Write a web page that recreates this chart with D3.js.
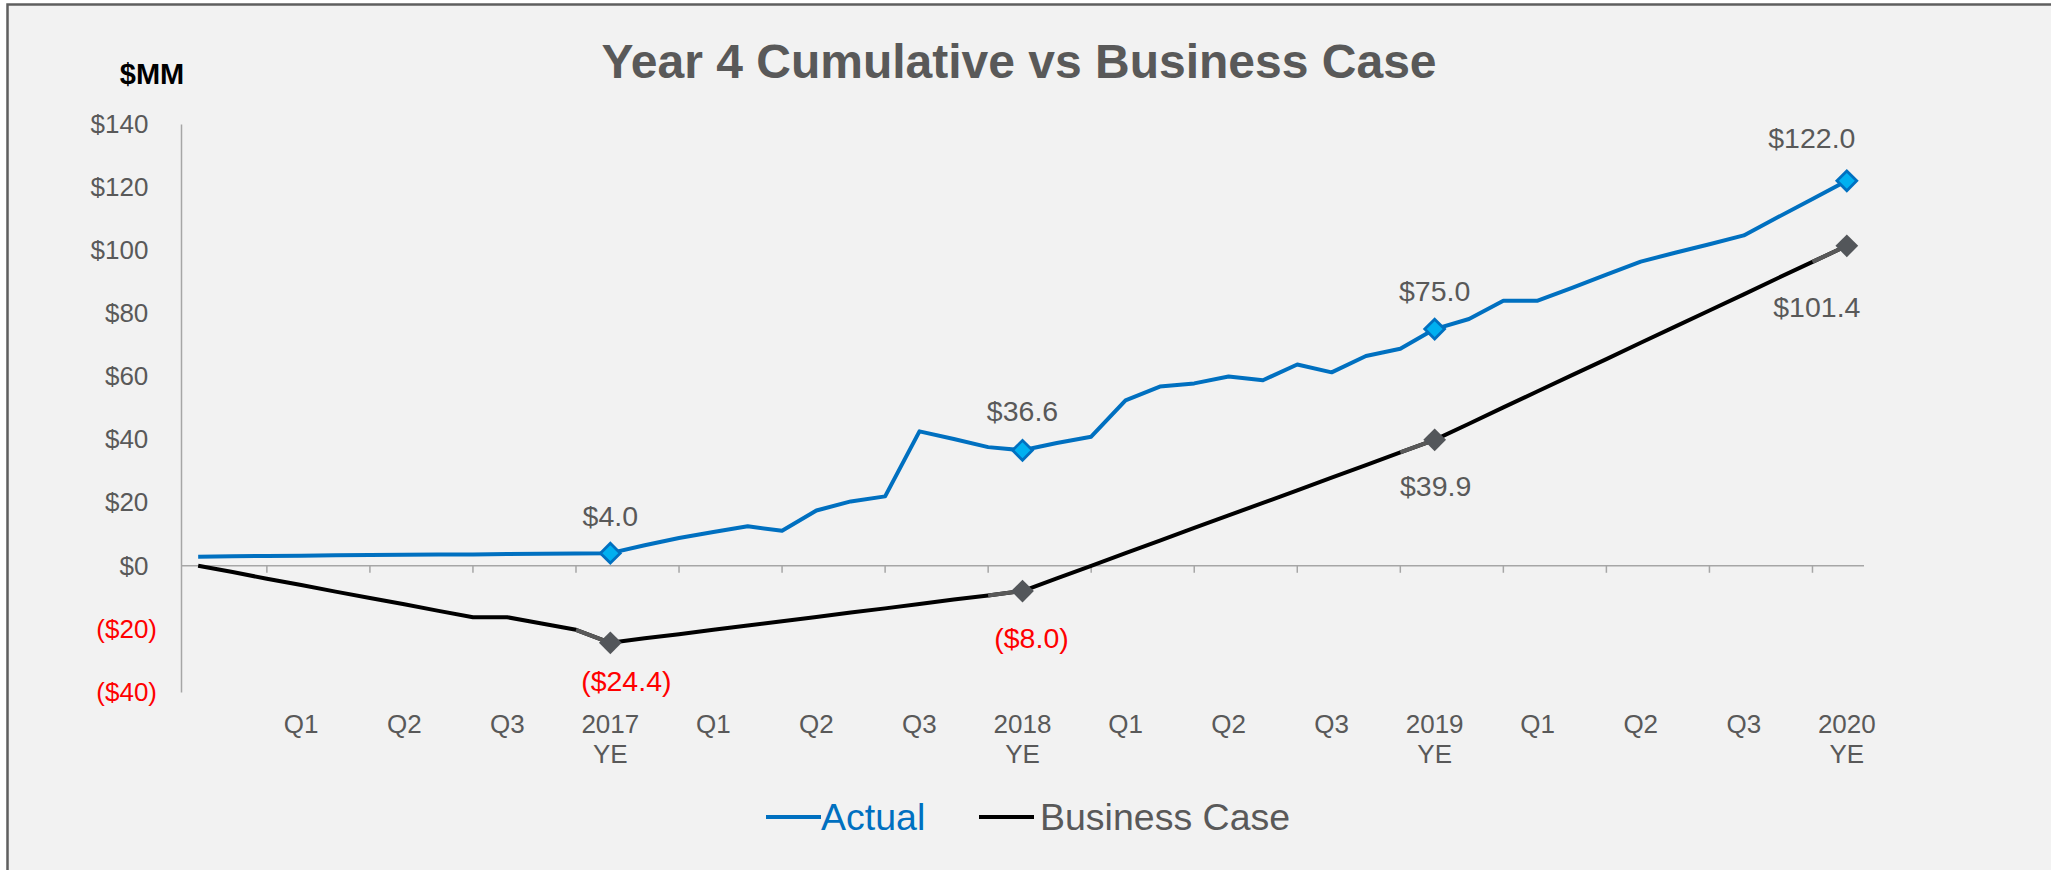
<!DOCTYPE html>
<html>
<head>
<meta charset="utf-8">
<script src="https://cdnjs.cloudflare.com/ajax/libs/d3/7.8.5/d3.min.js"></script>
<style>
  html, body { margin: 0; padding: 0; background: #ffffff; }
  svg { display: block; font-family: "Liberation Sans", Arial, sans-serif; }
  .line { fill: none; stroke-width: 4px; stroke-linejoin: round; }
</style>
</head>
<body>
<script>
// monthly categories, Dec-16 (start) to Dec-20
var months = ["Dec-16",
  "Jan-17","Feb-17","Mar-17","Apr-17","May-17","Jun-17","Jul-17","Aug-17","Sep-17","Oct-17","Nov-17","Dec-17",
  "Jan-18","Feb-18","Mar-18","Apr-18","May-18","Jun-18","Jul-18","Aug-18","Sep-18","Oct-18","Nov-18","Dec-18",
  "Jan-19","Feb-19","Mar-19","Apr-19","May-19","Jun-19","Jul-19","Aug-19","Sep-19","Oct-19","Nov-19","Dec-19",
  "Jan-20","Feb-20","Mar-20","Apr-20","May-20","Jun-20","Jul-20","Aug-20","Sep-20","Oct-20","Nov-20","Dec-20"];

// cumulative $MM
var actual = [2.9,
  3.0, 3.1, 3.2, 3.3, 3.4, 3.5, 3.6, 3.6, 3.7, 3.8, 3.9, 4.0,
  6.5, 8.8, 10.7, 12.5, 11.1, 17.5, 20.4, 22.0, 42.6, 40.2, 37.6, 36.6,
  38.9, 40.9, 52.4, 56.8, 57.8, 60.0, 58.8, 63.8, 61.3, 66.5, 68.8, 75.0,
  78.2, 84.0, 84.0, 88.1, 92.3, 96.4, 99.2, 101.9, 104.7, 110.5, 116.2, 122.0];

var businessCase = [0.0,
  -2.0, -4.1, -6.1, -8.2, -10.2, -12.2, -14.3, -16.3, -16.3, -18.3, -20.3, -24.4,
  -23.0, -21.7, -20.3, -18.9, -17.6, -16.2, -14.8, -13.5, -12.1, -10.7, -9.4, -8.0,
  -4.0, 0.0, 4.0, 8.0, 12.0, 16.0, 19.9, 23.9, 27.9, 31.9, 35.9, 39.9,
  45.0, 50.2, 55.3, 60.4, 65.5, 70.7, 75.8, 80.9, 86.0, 91.2, 96.3, 101.4];

// year-end points that get a marker and a label
var yearEnds = ["Dec-17", "Dec-18", "Dec-19", "Dec-20"];

// x axis labels
var tickMonths = ["Mar-17","Jun-17","Sep-17","Dec-17","Mar-18","Jun-18","Sep-18","Dec-18",
  "Mar-19","Jun-19","Sep-19","Dec-19","Mar-20","Jun-20","Sep-20","Dec-20"];
var tickLabels = [["Q1"],["Q2"],["Q3"],["2017","YE"],["Q1"],["Q2"],["Q3"],["2018","YE"],
  ["Q1"],["Q2"],["Q3"],["2019","YE"],["Q1"],["Q2"],["Q3"],["2020","YE"]];

var yTicks = [-40, -20, 0, 20, 40, 60, 80, 100, 120, 140];

var seriesNames = ["Actual", "Business Case"];

var W = 2051, H = 870;
var grey = "#595959", blue = "#0070c0";

var svg = d3.select("body").append("svg")
  .attr("width", W).attr("height", H);

// panel with border on top / left
svg.append("rect")
  .attr("x", 7.5).attr("y", 4.5)
  .attr("width", W + 20).attr("height", H + 20)
  .attr("fill", "#f2f2f2")
  .attr("stroke", "#5f5f5f").attr("stroke-width", 2.5);

var x = d3.scaleBand().domain(months).range([181, 1864]);
var y = d3.scaleLinear().domain([-40, 140]).range([692, 124]);
var cx = function(m) { return x(m) + x.bandwidth() / 2; };

function money(v) {
  return v < 0 ? "($" + Math.abs(v).toFixed(1) + ")" : "$" + v.toFixed(1);
}

// title
svg.append("text")
  .attr("x", 1019).attr("y", 78)
  .attr("text-anchor", "middle")
  .style("font-size", "48px").style("font-weight", "bold")
  .attr("fill", grey)
  .text("Year 4 Cumulative vs Business Case");

svg.append("text")
  .attr("x", 152).attr("y", 84)
  .attr("text-anchor", "middle")
  .style("font-size", "29px").style("font-weight", "bold")
  .attr("fill", "#000")
  .text("$MM");

// y axis
var yAxis = svg.append("g")
  .attr("transform", "translate(181,0)")
  .call(d3.axisLeft(y).tickValues(yTicks).tickSize(0).tickPadding(24)
    .tickFormat(function(d) { return d < 0 ? "($" + Math.abs(d) + ")" : "$" + d; }));
yAxis.select(".domain").attr("stroke", "#a6a6a6").attr("stroke-width", 1.5);
yAxis.selectAll("text")
  .style("font-size", "26px")
  .attr("font-family", null)
  .attr("fill", function(d) { return d < 0 ? "#ff0000" : grey; })
  .attr("dx", function(d) { return d < 0 ? 0 : "-0.333em"; });

// x axis line at zero with tick marks every quarter
var xAxis = svg.append("g");
xAxis.append("line")
  .attr("x1", x.range()[0]).attr("x2", x.range()[1])
  .attr("y1", y(0)).attr("y2", y(0))
  .attr("stroke", "#a6a6a6").attr("stroke-width", 1.5);
xAxis.selectAll(".tk").data(tickMonths).enter().append("line")
  .attr("x1", function(d) { return x(d) - x.bandwidth() / 2; })
  .attr("x2", function(d) { return x(d) - x.bandwidth() / 2; })
  .attr("y1", y(0)).attr("y2", y(0) + 7)
  .attr("stroke", "#a6a6a6").attr("stroke-width", 1.5);

var lab = svg.append("g").selectAll("text").data(tickMonths).enter().append("text")
  .attr("text-anchor", "middle")
  .attr("x", function(d) { return cx(d); })
  .attr("y", 733)
  .style("font-size", "26px")
  .attr("fill", grey);
lab.each(function(d, i) {
  var t = d3.select(this);
  tickLabels[i].forEach(function(s, k) {
    t.append("tspan").attr("x", cx(d)).attr("dy", k === 0 ? 0 : 30).text(s);
  });
});

// lines
var line = d3.line()
  .x(function(d) { return cx(d.m); })
  .y(function(d) { return y(d.v); });

var actualData = months.map(function(m, i) { return {m: m, v: actual[i]}; });
var bcData = months.map(function(m, i) { return {m: m, v: businessCase[i]}; });

svg.append("path").datum(bcData).attr("class", "line")
  .attr("stroke", "#000").attr("d", line);

// segments leading into the year-end points are grey
yearEnds.forEach(function(m) {
  var i = months.indexOf(m);
  svg.append("path").datum(bcData.slice(i - 1, i + 1)).attr("class", "line")
    .attr("stroke", grey).attr("d", line);
});

svg.append("path").datum(actualData).attr("class", "line")
  .attr("stroke", blue).attr("d", line);

// markers
var bcPts = bcData.filter(function(d) { return yearEnds.indexOf(d.m) >= 0; });
var acPts = actualData.filter(function(d) { return yearEnds.indexOf(d.m) >= 0; });

svg.selectAll(".bcm").data(bcPts).enter().append("path")
  .attr("d", d3.symbol().type(d3.symbolDiamond2).size(330))
  .attr("transform", function(d) { return "translate(" + cx(d.m) + "," + y(d.v) + ")"; })
  .attr("fill", "#53565a");

svg.selectAll(".acm").data(acPts).enter().append("path")
  .attr("d", d3.symbol().type(d3.symbolDiamond2).size(250))
  .attr("transform", function(d) { return "translate(" + cx(d.m) + "," + y(d.v) + ")"; })
  .attr("fill", "#00b0f0").attr("stroke", blue).attr("stroke-width", 2.8);

// data label offsets (dx, dy from point)
var acOff = [[0, -27], [0, -29], [0, -28], [-35, -33]];
var bcOff = [[16, 48], [9, 57], [1, 56], [-30, 71]];

svg.selectAll(".acl").data(acPts).enter().append("text")
  .attr("text-anchor", "middle")
  .attr("x", function(d, i) { return cx(d.m) + acOff[i][0]; })
  .attr("y", function(d, i) { return y(d.v) + acOff[i][1]; })
  .style("font-size", "28.5px")
  .attr("fill", grey)
  .text(function(d) { return money(d.v); });

svg.selectAll(".bcl").data(bcPts).enter().append("text")
  .attr("text-anchor", "middle")
  .attr("x", function(d, i) { return cx(d.m) + bcOff[i][0]; })
  .attr("y", function(d, i) { return y(d.v) + bcOff[i][1]; })
  .style("font-size", "28.5px")
  .attr("fill", function(d) { return d.v < 0 ? "#ff0000" : grey; })
  .text(function(d) { return money(d.v); });

// legend
var legend = svg.append("g");
var legX = [766, 979];
var legTx = [821, 1040];
var legCol = [blue, "#000"];
var legText = [blue, grey];
seriesNames.forEach(function(n, i) {
  legend.append("line")
    .attr("x1", legX[i]).attr("x2", legX[i] + 55)
    .attr("y1", 817).attr("y2", 817)
    .attr("stroke", legCol[i]).attr("stroke-width", 4);
  legend.append("text")
    .attr("x", legTx[i]).attr("y", 830)
    .style("font-size", "37.5px")
    .attr("fill", legText[i])
    .text(n);
});
</script>
</body>
</html>
